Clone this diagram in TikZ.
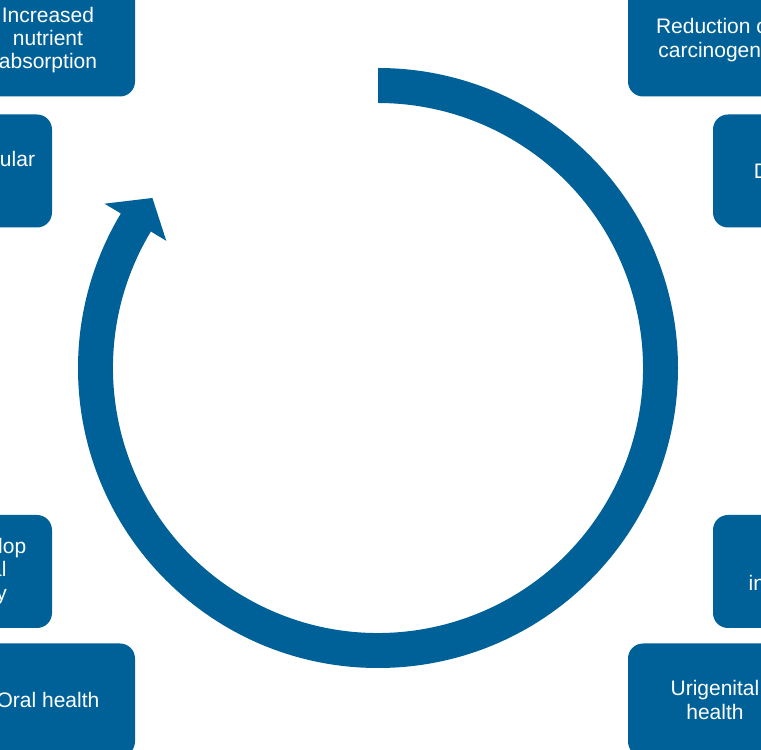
\documentclass[tikz,border=0pt]{standalone}
\usepackage{fontspec}
\setmainfont{Liberation Sans}
\usepackage{tikz}
\definecolor{ringblue}{RGB}{0,97,152}

\begin{document}
\begin{tikzpicture}[x=1pt,y=1pt,
	benefit/.style={fill=ringblue, rounded corners=15pt, minimum width=174pt,
		minimum height=113pt, inner sep=0pt, align=center, text=white,
		font=\fontsize{21}{23.2}\selectfont}]
	\useasboundingbox (0,0) rectangle (761,750);
	\clip (0,0) rectangle (761,750);
	%Boxes, left side
	\node[benefit] (nutri) at (48,710) {Increased\\nutrient\\absorption};
	\node[benefit] (cardio) at (-35,579) {Cardiovascular\\health};
	\node[benefit] (immun) at (-35,178.5) {Help develop\\intestinal\\immunity};
	\node[benefit] (oral) at (48,50) {Oral health};
	%Boxes, right side
	\node[benefit] (carcin) at (715,710) {Reduction of\\carcinogens};
	\node[benefit] (diarr) at (800,579) {Diarrhoea};
	\node[benefit] (lact) at (800,178.5) {Lactose\\intolerance};
	\node[benefit] (urigen) at (715,50) {Urigenital\\health};
	%Ring arrow
	\coordinate (ctr) at (378,382);
	\fill[ringblue, shift={(ctr)}]
		(90:300) arc[start angle=90, end angle=-211, radius=300]
		-- (149:319) -- (143:282.5) -- (149:247) -- (149:265)
		arc[start angle=149, end angle=450, radius=265] -- cycle;
\end{tikzpicture}
\end{document}
